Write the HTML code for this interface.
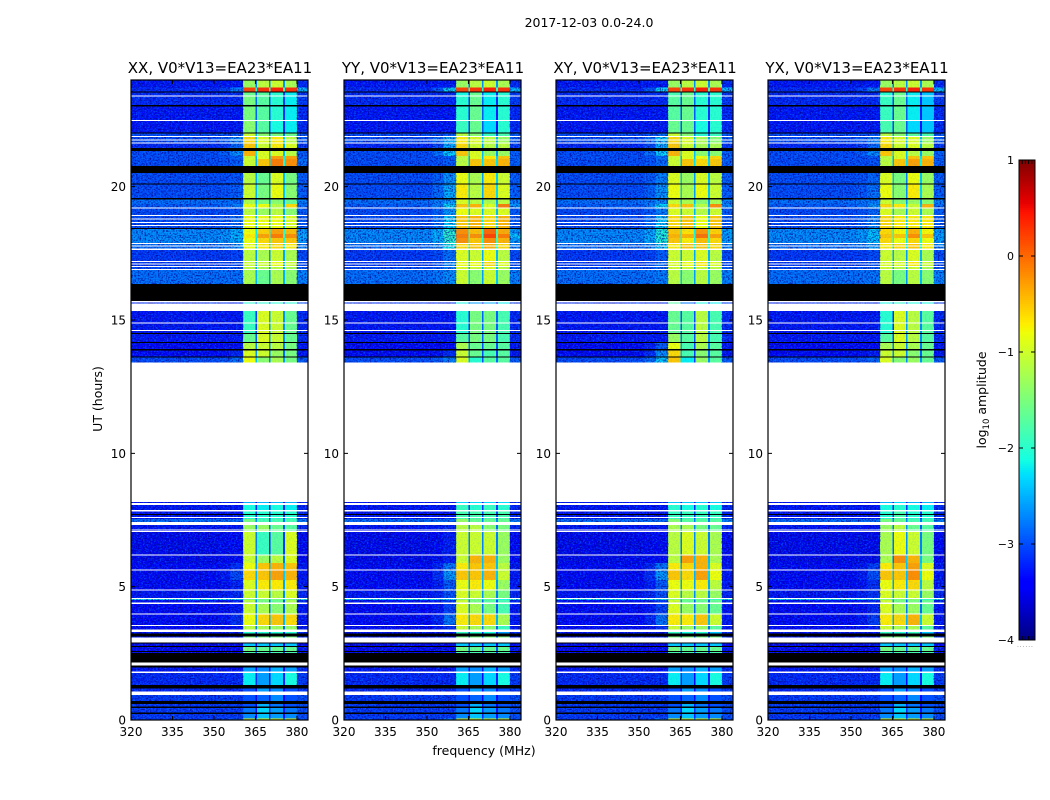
<!DOCTYPE html>
<html lang="en">
<head>
<meta charset="utf-8">
<title>2017-12-03 0.0-24.0</title>
<style>
html,body{margin:0;padding:0;background:#fff;}
svg{display:block;font-family:"DejaVu Sans","Liberation Sans",sans-serif;fill:#000;}
.cells rect,.gaps rect,.cbar rect{shape-rendering:crispEdges;}
</style>
</head>
<body>
<svg id="chart" xmlns="http://www.w3.org/2000/svg" width="1050" height="800" viewBox="0 0 1050 800">
  <defs>
    <filter id="speckle-light" x="0" y="0" width="1" height="1" color-interpolation-filters="sRGB">
      <feTurbulence type="fractalNoise" baseFrequency="0.55 0.7" numOctaves="2" seed="3"/>
      <feColorMatrix values="0 0 0 0 0  0 0 0 0 .55  0 0 0 0 1  3.4 0 0 0 -1.5"/>
    </filter>
    <filter id="speckle-dark" x="0" y="0" width="1" height="1" color-interpolation-filters="sRGB">
      <feTurbulence type="fractalNoise" baseFrequency="0.6 0.65" numOctaves="2" seed="11"/>
      <feColorMatrix values="0 0 0 0 0  0 0 0 0 0  0 0 0 0 .55  0 3.4 0 0 -1.5"/>
    </filter>
  </defs>
  <text x="589" y="27" font-size="12.5" text-anchor="middle">2017-12-03 0.0-24.0</text>
  <text x="220" y="73" font-size="15" text-anchor="middle">XX, V0*V13=EA23*EA11</text>
  <text x="433" y="73" font-size="15" text-anchor="middle">YY, V0*V13=EA23*EA11</text>
  <text x="645" y="73" font-size="15" text-anchor="middle">XY, V0*V13=EA23*EA11</text>
  <text x="857" y="73" font-size="15" text-anchor="middle">YX, V0*V13=EA23*EA11</text>
  <text transform="translate(102,399) rotate(-90)" font-size="12.5" text-anchor="middle">UT (hours)</text>
  <text x="484" y="755" font-size="12.5" text-anchor="middle">frequency (MHz)</text>
  <text transform="translate(986,400) rotate(-90)" font-size="12.5" text-anchor="middle">log<tspan font-size="8.5" dy="3">10</tspan><tspan dy="-3"> amplitude</tspan></text>
  <text x="1017" y="647" font-size="6" letter-spacing="0.9" fill="#777">......</text>
  <g id="panels"></g>
  <g id="colorbar" class="cbar"></g>
</svg>
<script>
// ---- Axis values ----
const freqTicks = [320, 335, 350, 365, 380];
const utTicks = [0, 5, 10, 15, 20];
const colorTicks = [1, 0, -1, -2, -3, -4];
const panelNames = ['xx', 'yy', 'xy', 'yx'];
// Frequency channel groups, MHz (left edge of each group, then the final edge)
const channelEdges = [320, 352, 356, 360.5, 365, 365.6, 369.9, 370.5, 375, 375.6, 380, 384];

// ---- Observed bands, top to bottom: each lasts until the next band's top ----
const bandTopUT = [
  24.00,23.72,23.57,23.38,23.01,22.46,21.99,21.90,21.66,21.34,
  21.15,21.04,20.52,20.12,19.52,19.35,19.22,18.94,18.45,18.23,
  18.08,17.89,17.68,17.21,17.03,16.91,15.71,15.62,14.51,14.18,
  13.91,13.63,8.18,8.14,7.88,7.54,7.43,7.09,6.21,5.89,
  5.64,5.25,4.89,4.54,4.50,4.41,3.99,3.56,3.39,3.13,
  2.91,2.78,2.59,2.04,1.82,1.31,1.07,0.71,0.51,0.28,
  0.06];
// log10 amplitude of the off-band background
const bandBackground = [
  -3.3,-3.2,-3.2,-3.2,-3.3,-3.3,-3.0,-3.0,-3.2,-3.0,
  -3.0,-3.0,-3.0,-3.0,-2.8,-2.9,-3.0,-3.0,-2.65,-2.65,
  -2.65,-2.8,-3.1,-3.1,-3.0,-2.8,-3.2,-3.3,-3.3,-3.4,
  -3.4,-3.0,-3.3,-3.3,-3.3,-2.8,-3.3,-3.5,-3.5,-3.4,
  -3.4,-3.4,-3.3,-2.2,-3.3,-3.4,-3.4,-3.4,-3.3,-3.3,
  -3.5,-3.4,-3.4,-3.3,-3.2,-3.2,-3.1,-3.1,-3.1,-3.1,
  -3.1];
// log10 amplitude of each of the four spectral windows in the XX panel
const bandWindow1 = [
  -1.3,0.2,-1.6,-1.5,-1.5,-1.4,-1.0,-0.6,-0.5,-0.4,
  -1.0,-1.0,-1.1,-1.0,-1.2,-0.8,-1.1,-0.8,-0.8,-0.7,
  -0.8,-0.8,-1.1,-1.0,-1.1,-1.2,-2.0,-1.9,-1.6,-1.1,
  -0.9,-0.8,-2.5,-2.1,-2.0,-1.5,-1.3,-1.0,-1.0,-0.8,
  -0.6,-0.9,-1.0,-1.5,-1.1,-1.0,-0.8,-1.1,-2.0,-1.5,
  -2.4,-1.5,-1.8,-2.6,-2.2,-3.0,-3.0,-3.0,-2.8,-2.7,
  -0.8];
const bandWindow2 = [
  -1.1,0.3,-1.7,-1.7,-1.7,-1.7,-1.4,-0.9,-1.0,-0.9,
  -0.9,-0.5,-1.6,-1.5,-1.5,-0.8,-1.3,-0.8,-0.55,-0.3,
  -0.6,-0.7,-1.2,-1.0,-1.2,-1.6,-2.0,-0.9,-0.9,-1.0,
  -1.0,-1.4,-2.5,-2.2,-2.0,-1.8,-1.3,-1.9,-1.3,-0.5,
  -0.5,-0.7,-1.0,-1.5,-1.5,-1.2,-0.6,-1.2,-2.0,-1.5,
  -2.4,-1.6,-1.8,-2.7,-2.6,-2.6,-2.9,-2.5,-2.3,-2.4,
  -0.8];
const bandWindow3 = [
  -1.0,0.4,-2.0,-2.0,-2.0,-2.1,-1.5,-0.7,-0.7,-0.9,
  -0.3,-0.1,-0.9,-0.8,-1.4,-1.1,-1.1,-0.8,-0.3,-0.1,
  -0.5,-0.6,-1.0,-0.8,-1.1,-1.2,-2.0,-1.0,-1.0,-1.1,
  -1.3,-1.2,-2.5,-2.1,-2.0,-1.8,-1.6,-1.7,-1.1,-0.4,
  -0.3,-0.7,-1.1,-1.5,-1.6,-1.4,-0.5,-1.3,-2.0,-1.5,
  -2.4,-1.6,-1.8,-2.5,-2.3,-2.7,-2.7,-2.8,-2.6,-2.6,
  -0.8];
const bandWindow4 = [
  -1.2,0.3,-2.2,-2.2,-2.2,-2.2,-1.6,-1.1,-0.9,-1.1,
  -0.3,-0.2,-1.5,-1.4,-1.6,-0.6,-1.4,-0.9,-0.45,-0.2,
  -0.5,-0.7,-1.2,-1.0,-1.2,-1.4,-2.0,-1.6,-1.6,-1.5,
  -1.5,-1.5,-2.5,-2.2,-2.0,-1.8,-1.7,-0.9,-0.9,-0.5,
  -0.4,-0.7,-0.9,-1.5,-1.2,-1.2,-0.6,-1.3,-2.0,-1.5,
  -2.4,-1.6,-1.8,-2.6,-2.1,-3.0,-3.0,-3.0,-2.8,-2.7,
  -0.8];

// ---- Flagged (black) and empty (white) time ranges, UT ----
const flaggedTopUT = [23.57,23.06,22.03,21.45,20.78,20.12,19.58,18.45,16.35,14.51,14.18,13.91,13.63,7.73,3.24,2.91,2.78,2.59,2.51,2.04,1.31,0.71,0.51,0.28];
const flaggedBottomUT = [23.53,23.01,21.99,21.34,20.52,20.09,19.52,18.41,15.71,14.48,14.14,13.86,13.59,7.69,3.13,2.87,2.74,2.55,2.16,1.97,1.18,0.60,0.45,0.23];
const emptyTopUT = [23.42,22.50,21.90,21.77,21.66,19.22,18.94,18.81,18.68,18.56,17.89,17.79,17.68,17.21,17.12,17.03,16.91,15.71,15.62,14.91,14.63,13.40,8.14,7.88,7.61,7.43,7.14,7.09,6.21,5.64,4.89,4.58,4.41,3.99,3.56,3.39,3.09,2.16,1.82,1.07];
const emptyBottomUT = [23.38,22.46,21.86,21.73,21.62,19.19,18.90,18.77,18.64,18.53,17.85,17.76,17.63,17.18,17.08,16.99,16.88,15.66,15.34,14.87,14.59,8.18,8.06,7.82,7.58,7.31,7.11,7.05,6.17,5.61,4.86,4.54,4.35,3.96,3.53,3.30,2.91,2.04,1.76,0.94];

// ---- Per-panel corrections relative to XX, one row per observing era ----
const eraTopUT = [24, 23.58, 22, 20.7, 18.5, 17.9, 16.3, 13.5, 8.2, 7.1, 6.2, 3.2];
const offsetsXX = [[0,0,0,0],[0,0,0,0],[0,0,0,0],[0,0,0,0],[0,0,0,0],[0,0,0,0],[0,0,0,0],[0,0,0,0],[0,0,0,0],[0,0,0,0],[0,0,0,0],[0,0,0,0]];
const offsetsYY = [[0,0,0,0],[-.5,.1,-.2,.2],[-.1,0,-.4,-.2],[.3,.4,.2,.5],[.6,.1,.3,.1],[.2,.2,.2,.1],[-.1,-.6,-.5,-.2],[0,0,0,0],[.2,.2,.2,.2],[0,.9,.7,-.4],[.1,0,-.1,-.6],[0,0,0,0]];
const offsetsXY = [[0,0,0,0],[-.2,.1,0,.2],[0,0,-.5,-.3],[.2,.3,0,.4],[.3,-.1,.05,-.1],[.1,.2,.1,.1],[.3,-.8,-.1,-.2],[0,0,0,0],[.1,.1,.1,.1],[-.1,1,.7,-.3],[.1,-.1,0,-.4],[0,0,0,0]];
const offsetsYX = [[0,0,0,0],[-.4,.1,-.2,-.2],[-.1,0,-.2,-.2],[.2,.1,.1,.2],[.2,-.2,-.1,-.3],[.1,.1,.1,0],[-.1,0,-.1,-.1],[0,0,0,0],[0,.2,0,0],[-.2,1.1,.7,-.6],[.1,0,.1,-.4],[0,0,0,0]];
const panelOffsets = [offsetsXX, offsetsYY, offsetsXY, offsetsYX];
// How strongly the in-band power leaks into the shoulder below the first window
const shoulderGain = [0.5, 1, 1, 0.5];

// ---- Layout ----
const panelsRoot = document.getElementById('panels');
const NS = 'http://www.w3.org/2000/svg';
const panelLeft = [131, 344, 556, 768];
const plotWidth = 177, plotTop = 80, plotBottom = 720;
const cbLeft = 1019, cbRight = 1035, cbTop = 160, cbBottom = 640;
const FREQ_MIN = 320, FREQ_MAX = 384, UT_MIN = 0, UT_MAX = 24, LOG_MIN = -4, LOG_MAX = 1;

function xScale(left, mhz) { return left + (mhz - FREQ_MIN) / (FREQ_MAX - FREQ_MIN) * plotWidth; }
function yScale(ut) { return plotBottom - (ut - UT_MIN) / (UT_MAX - UT_MIN) * (plotBottom - plotTop); }
function cbScale(v) { return cbBottom - (v - LOG_MIN) / (LOG_MAX - LOG_MIN) * (cbBottom - cbTop); }

const jetR = [[0,0],[.35,0],[.66,1],[.89,1],[1,.5]];
const jetG = [[0,0],[.125,0],[.375,1],[.64,1],[.91,0],[1,0]];
const jetB = [[0,.5],[.11,1],[.34,1],[.65,0],[1,0]];
function ramp(t, table) {
  for (let i = 1; i < table.length; i++) {
    if (t <= table[i][0]) {
      const a = table[i - 1], b = table[i];
      return a[1] + (t - a[0]) / (b[0] - a[0]) * (b[1] - a[1]);
    }
  }
  return table[table.length - 1][1];
}
function jet(level) {
  const t = Math.min(1, Math.max(0, (level - LOG_MIN) / (LOG_MAX - LOG_MIN)));
  return 'rgb(' + Math.round(255 * ramp(t, jetR)) + ',' + Math.round(255 * ramp(t, jetG)) + ',' + Math.round(255 * ramp(t, jetB)) + ')';
}
function make(tag, attrs, parent) {
  const el = document.createElementNS(NS, tag);
  for (const k in attrs) el.setAttribute(k, attrs[k]);
  parent.appendChild(el);
  return el;
}
function eraIndex(ut) {
  let idx = 0;
  for (let i = 0; i < eraTopUT.length; i++) if (ut <= eraTopUT[i]) idx = i;
  return idx;
}
function clamp01(v) { return Math.min(1, Math.max(0, v)); }
function bandLevels(p, b) {
  const bg = bandBackground[b];
  const e = panelOffsets[p][eraIndex(bandTopUT[b])];
  const w = [bandWindow1[b] + e[0], bandWindow2[b] + e[1], bandWindow3[b] + e[2], bandWindow4[b] + e[3]];
  const leak = shoulderGain[p] * clamp01((w[0] + 1.2) / 0.6);
  const rightLeak = clamp01((w[3] + 0.3) / 0.5);
  return [bg,
    bg + 0.08 * leak * (w[0] - bg),
    bg + 0.28 * leak * (w[0] - bg),
    w[0], (bg + w[0]) / 2 - 0.5,
    w[1], (bg + w[1]) / 2 - 0.5,
    w[2], (bg + w[2]) / 2 - 0.5,
    w[3],
    bg + 0.1 + 0.2 * rightLeak * (w[3] - bg)];
}

panelNames.forEach(function (name, p) {
  const left = panelLeft[p];
  const group = make('g', {}, panelsRoot);
  
  

  const clipId = 'clip-' + name;
  const clip = make('clipPath', { id: clipId }, group);
  make('rect', { x: left, y: plotTop, width: plotWidth, height: plotBottom - plotTop }, clip);

  const cells = make('g', { 'class': 'cells', 'clip-path': 'url(#' + clipId + ')' }, group);
  
  

  bandTopUT.forEach(function (topUT, b) {
    const botUT = b + 1 < bandTopUT.length ? bandTopUT[b + 1] : UT_MIN;
    const levels = bandLevels(p, b);
    levels.forEach(function (level, c) {
      const x0 = xScale(left, channelEdges[c]), x1 = xScale(left, channelEdges[c + 1]);
      const cell = make('rect', { x: x0, y: yScale(topUT), width: x1 - x0, height: yScale(botUT) - yScale(topUT), fill: jet(level) }, cells);
      
      
    });
  });

  // grain texture over the band blocks
  const grain = make('g', { 'clip-path': 'url(#' + clipId + ')' }, group);
  
  
  const xA = xScale(left, 360.5), xB = xScale(left, 380);
  make('rect', { x: left, y: plotTop, width: xA - left, height: plotBottom - plotTop, filter: 'url(#speckle-light)', opacity: 0.5 }, grain);
  make('rect', { x: left, y: plotTop, width: xA - left, height: plotBottom - plotTop, filter: 'url(#speckle-dark)', opacity: 0.75 }, grain);
  make('rect', { x: xB, y: plotTop, width: left + plotWidth - xB, height: plotBottom - plotTop, filter: 'url(#speckle-light)', opacity: 0.5 }, grain);
  make('rect', { x: xB, y: plotTop, width: left + plotWidth - xB, height: plotBottom - plotTop, filter: 'url(#speckle-dark)', opacity: 0.75 }, grain);
  make('rect', { x: xA, y: plotTop, width: xB - xA, height: plotBottom - plotTop, filter: 'url(#speckle-light)', opacity: 0.14 }, grain);

  // flagged and empty ranges sit on top of the grain
  const gaps = make('g', { 'class': 'gaps', 'clip-path': 'url(#' + clipId + ')' }, group);
  
  
  flaggedTopUT.forEach(function (topUT, i) {
    const gap = make('rect', { x: left, y: yScale(topUT), width: plotWidth, height: yScale(flaggedBottomUT[i]) - yScale(topUT), fill: '#000' }, gaps);
    
    
  });
  emptyTopUT.forEach(function (topUT, i) {
    const gap = make('rect', { x: left, y: yScale(topUT), width: plotWidth, height: yScale(emptyBottomUT[i]) - yScale(topUT), fill: '#fff' }, gaps);
    
    
  });

  const frame = make('rect', { x: left, y: plotTop, width: plotWidth, height: plotBottom - plotTop, fill: 'none', stroke: '#000', 'stroke-width': 1.2 }, group);
  
  

  freqTicks.forEach(function (f) {
    const x = xScale(left, f);
    const tick = make('path', { d: 'M' + x + ' ' + plotBottom + 'v-4M' + x + ' ' + plotTop + 'v4', stroke: '#000', 'stroke-width': 1, fill: 'none' }, group);
    
    
    const label = make('text', { x: x, y: 736, 'font-size': 12, 'text-anchor': 'middle' }, group);
    label.textContent = String(f);
    
    
  });
  utTicks.forEach(function (u) {
    const y = yScale(u);
    const tick = make('path', { d: 'M' + left + ' ' + y + 'h4M' + (left + plotWidth) + ' ' + y + 'h-4', stroke: '#000', 'stroke-width': 1, fill: 'none' }, group);
    
    
    const label = make('text', { x: left - 5, y: y + 4.5, 'font-size': 12, 'text-anchor': 'end' }, group);
    label.textContent = String(u);
    
    
  });
});

// ---- Colorbar ----
const cb = document.getElementById('colorbar');
for (let y = cbTop; y < cbBottom; y += 2) {
  const level = LOG_MIN + (cbBottom - y - 1) / (cbBottom - cbTop) * (LOG_MAX - LOG_MIN);
  const strip = make('rect', { x: cbLeft, y: y, width: cbRight - cbLeft, height: 2, fill: jet(level) }, cb);
  
  
}
const cbFrame = make('rect', { x: cbLeft, y: cbTop, width: cbRight - cbLeft, height: cbBottom - cbTop, fill: 'none', stroke: '#000', 'stroke-width': 1.2 }, cb);


colorTicks.forEach(function (v) {
  const y = cbScale(v);
  const tick = make('path', { d: 'M' + cbLeft + ' ' + y + 'h4M' + cbRight + ' ' + y + 'h-4', stroke: '#000', 'stroke-width': 1, fill: 'none' }, cb);
  
  
  const label = make('text', { x: cbLeft - 5, y: y + 4, 'font-size': 11, 'text-anchor': 'end' }, cb);
  label.textContent = String(v).replace('-', '\u2212');
  
  
});
[0.2, 0.4, 0.6, 0.8].forEach(function (frac) {
  const x = cbLeft + frac * (cbRight - cbLeft);
  const minor = make('path', { d: 'M' + x + ' ' + cbTop + 'v4M' + x + ' ' + cbBottom + 'v-4', stroke: '#000', 'stroke-width': 1, fill: 'none' }, cb);
  
  
});
</script>
</body>
</html>
